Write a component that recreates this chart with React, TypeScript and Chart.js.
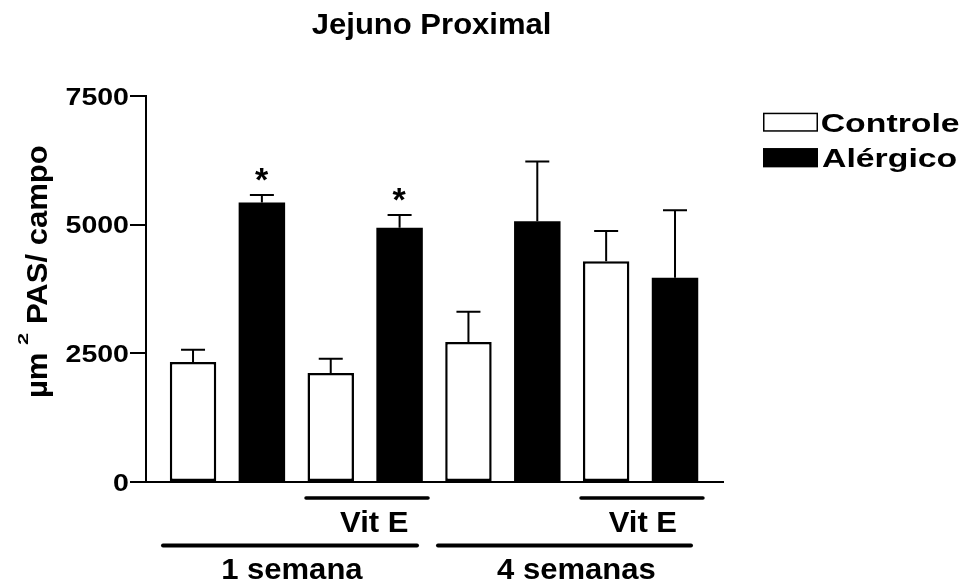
import React, { useEffect, useRef } from "react";
import { Chart, registerables } from "chart.js";

Chart.register(...registerables);

// ---- data ----
const titleText = "Jejuno Proximal";
const seriesNames = ["Controle", "Alérgico"];
const controleX = [0, 2, 4, 6];
const controleValues = [2330, 2120, 2720, 4290];
const controleErrors = [240, 275, 590, 585];
const alergicoX = [1, 3, 5, 7];
const alergicoValues = [5430, 4940, 5065, 3970];
const alergicoErrors = [145, 250, 1160, 1310];
const alergicoMarks = ["*", "*", "", ""];
const controleMarks = ["", "", "", ""];
const yTicks = [0, 2500, 5000, 7500];
const weekLabels = ["1 semana", "4 semanas"];
const treatmentLabels = ["Vit E", "Vit E"];
const yTitleParts = ["µm", "2", "PAS/ campo"];

const FONT = '"Liberation Sans", Arial, sans-serif';

function drawText(
  ctx: CanvasRenderingContext2D,
  text: string,
  x: number,
  baseline: number,
  size: number,
  sx: number,
  align: "left" | "center" | "right"
) {
  ctx.save();
  ctx.font = `bold ${size}px ${FONT}`;
  ctx.textAlign = "left";
  ctx.textBaseline = "alphabetic";
  ctx.fillStyle = "#000";
  const m = ctx.measureText(text);
  const inkL = -m.actualBoundingBoxLeft * sx;
  const inkR = m.actualBoundingBoxRight * sx;
  let ox = x;
  if (align === "left") ox = x - inkL;
  else if (align === "right") ox = x - inkR;
  else ox = x - (inkL + inkR) / 2;
  ctx.translate(ox, baseline);
  ctx.scale(sx, 1);
  ctx.fillText(text, 0, 0);
  ctx.restore();
}

// rotated (-90deg) text whose ink starts at screen y = startY and runs upward
function drawVText(
  ctx: CanvasRenderingContext2D,
  text: string,
  baselineX: number,
  startY: number,
  size: number,
  sx: number
) {
  ctx.save();
  ctx.font = `bold ${size}px ${FONT}`;
  ctx.textAlign = "left";
  ctx.textBaseline = "alphabetic";
  ctx.fillStyle = "#000";
  const m = ctx.measureText(text);
  ctx.translate(baselineX, startY);
  ctx.rotate(-Math.PI / 2);
  ctx.scale(sx, 1);
  ctx.fillText(text, m.actualBoundingBoxLeft, 0);
  ctx.restore();
}

const annotPlugin = {
  id: "annot",
  afterDatasetsDraw(chart: any) {
    const ctx: CanvasRenderingContext2D = chart.ctx;
    const ys = chart.scales.y;
    ctx.save();
    ctx.strokeStyle = "#000";
    ctx.lineWidth = 2;
    ctx.lineCap = "butt";
    chart.data.datasets.forEach((ds: any, di: number) => {
      const meta = chart.getDatasetMeta(di);
      meta.data.forEach((bar: any, i: number) => {
        const v = ds.data[i].y;
        const e = ds.errors[i];
        const x = bar.x;
        const yTop = ys.getPixelForValue(v);
        const yErr = ys.getPixelForValue(v + e);
        ctx.beginPath();
        ctx.moveTo(x, yTop);
        ctx.lineTo(x, yErr);
        ctx.moveTo(x - 12, yErr);
        ctx.lineTo(x + 12, yErr);
        ctx.stroke();
        const mark = ds.marks ? ds.marks[i] : "";
        if (mark) {
          ctx.save();
          ctx.font = `bold 34px ${FONT}`;
          const mm = ctx.measureText(mark);
          const cy = yErr - 20.5;
          const base = cy + (mm.actualBoundingBoxAscent - mm.actualBoundingBoxDescent) / 2;
          ctx.restore();
          drawText(ctx, mark, x, base, 34, 1, "center");
        }
      });
    });
    ctx.restore();
  },
  afterDraw(chart: any) {
    const ctx: CanvasRenderingContext2D = chart.ctx;
    const xs = chart.scales.x;
    const ys = chart.scales.y;
    const area = chart.chartArea;

    // title
    drawText(ctx, titleText, (area.left + area.right) / 2 - 4, 33.5, 29, 1.07, "center");

    // y tick labels
    ctx.save();
    ctx.font = `bold 23px ${FONT}`;
    const cap = ctx.measureText("0").actualBoundingBoxAscent;
    ctx.restore();
    ys.ticks.forEach((t: any) => {
      const y = ys.getPixelForValue(t.value);
      drawText(ctx, String(t.value), area.left - 18, y + cap / 2, 23, 1.24, "right");
    });

    // y axis title
    drawVText(ctx, yTitleParts[0], 47, 397, 29, 1.07);
    drawVText(ctx, yTitleParts[1], 28, 345, 15, 1.45);
    drawVText(ctx, yTitleParts[2], 47, 323, 29, 1.07);

    // group lines
    const hline = (a: number, b: number, y: number, w: number) => {
      ctx.save();
      ctx.strokeStyle = "#000";
      ctx.lineWidth = w;
      ctx.lineCap = "round";
      ctx.beginPath();
      ctx.moveTo(xs.getPixelForValue(a), y);
      ctx.lineTo(xs.getPixelForValue(b), y);
      ctx.stroke();
      ctx.restore();
    };
    const treatRanges = [
      [1.641, 3.413, 2.63],
      [5.635, 7.406, 6.53],
    ];
    const weekRanges = [
      [-0.436, 3.253, 1.45],
      [3.558, 7.232, 5.56],
    ];
    treatRanges.forEach((r, i) => {
      hline(r[0], r[1], area.bottom + 16, 3.5);
      drawText(ctx, treatmentLabels[i], xs.getPixelForValue(r[2]), area.bottom + 49.7, 29, 1.07, "center");
    });
    weekRanges.forEach((r, i) => {
      hline(r[0], r[1], area.bottom + 63.5, 4);
      drawText(ctx, weekLabels[i], xs.getPixelForValue(r[2]), area.bottom + 97.3, 29, 1.07, "center");
    });

    // legend
    const lx = area.right + 40;
    chart.data.datasets.forEach((ds: any, i: number) => {
      const top = 112.7 + i * 35.5;
      ctx.save();
      ctx.fillStyle = ds.backgroundColor;
      ctx.fillRect(lx, top, 55, 19);
      ctx.strokeStyle = "#000";
      ctx.lineWidth = 1.5;
      ctx.strokeRect(lx + 0.75, top + 0.75, 53.5, 17.5);
      ctx.restore();
      drawText(ctx, ds.label, lx + 59, top + 19.2, 26, 1.3, "left");
    });
  },
};

export default function App() {
  const ref = useRef<HTMLCanvasElement>(null);
  useEffect(() => {
    const canvas = ref.current!;
    const chart = new Chart(canvas, {
      type: "bar",
      data: {
        datasets: [
          {
            label: seriesNames[0],
            data: controleX.map((x, i) => ({ x, y: controleValues[i] })),
            backgroundColor: "#ffffff",
            borderColor: "#000000",
            borderWidth: 2.5,
            borderSkipped: false,
            grouped: false,
            categoryPercentage: 1,
            barPercentage: 0.675,
            errors: controleErrors,
            marks: controleMarks,
          } as any,
          {
            label: seriesNames[1],
            data: alergicoX.map((x, i) => ({ x, y: alergicoValues[i] })),
            backgroundColor: "#000000",
            borderColor: "#000000",
            borderWidth: 0,
            grouped: false,
            categoryPercentage: 1,
            barPercentage: 0.675,
            errors: alergicoErrors,
            marks: alergicoMarks,
          } as any,
        ],
      },
      options: {
        responsive: false,
        animation: false,
        layout: { padding: { left: 0, top: 96, right: 239, bottom: 101 } },
        plugins: {
          legend: { display: false },
          title: { display: false },
          tooltip: { enabled: false },
        },
        scales: {
          x: {
            type: "linear",
            offset: false,
            min: -0.683,
            max: 7.697,
            ticks: { display: false },
            grid: { display: false, drawTicks: false, offset: false },
            border: { display: true, color: "#000", width: 2 },
            afterFit: (s: any) => {
              s.height = 0;
            },
          },
          y: {
            min: 0,
            max: 7500,
            afterBuildTicks: (s: any) => {
              s.ticks = yTicks.map((v) => ({ value: v }));
            },
            ticks: { display: false },
            grid: {
              display: true,
              drawOnChartArea: false,
              drawTicks: true,
              tickLength: 16,
              color: "#000",
              lineWidth: 2,
            },
            border: { display: true, color: "#000", width: 2 },
            afterFit: (s: any) => {
              s.width = 146;
            },
          },
        },
      } as any,
      plugins: [annotPlugin],
    });
    return () => chart.destroy();
  }, []);
  return (
    <div style={{ position: "fixed", left: 0, top: 0, width: 962, height: 583, background: "#fff" }}>
      <canvas ref={ref} width={962} height={583} style={{ width: 962, height: 583, display: "block" }} />
    </div>
  );
}
